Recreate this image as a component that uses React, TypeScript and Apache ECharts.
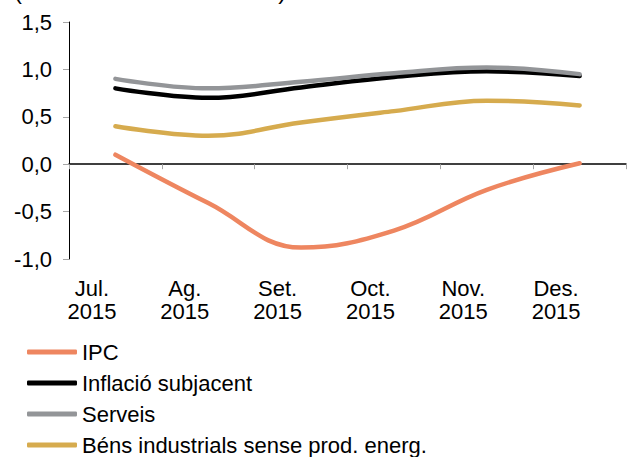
import React, { useEffect, useRef } from "react";
import * as echarts from "echarts";

const categories = ["Jul.\n2015", "Ag.\n2015", "Set.\n2015", "Oct.\n2015", "Nov.\n2015", "Des.\n2015"];
const ipc = [0.1, -0.41, -0.88, -0.7, -0.27, 0.01];
const inflacio = [0.8, 0.7, 0.81, 0.92, 0.98, 0.93];
const serveis = [0.9, 0.8, 0.87, 0.96, 1.02, 0.95];
const bens = [0.4, 0.3, 0.44, 0.56, 0.67, 0.62];
const seriesNames = ["IPC", "Inflació subjacent", "Serveis", "Béns industrials sense prod. energ."];
const colors = ["#EE8660", "#000000", "#939598", "#D6AB4E"];
const titleText = "(variació interanual en %)";

const FONT = "'Liberation Sans', Arial, sans-serif";

export default function App() {
  const ref = useRef<HTMLDivElement>(null);
  useEffect(() => {
    if (!ref.current) return;
    const chart = echarts.init(ref.current, undefined, { renderer: "svg" });
    const data = [ipc, inflacio, serveis, bens];
    chart.setOption({
      animation: false,
      textStyle: { fontFamily: FONT },
      grid: { left: 69, top: 22, width: 564, bottom: 198, containLabel: false },
      graphic: [
        {
          type: "text",
          left: 14,
          top: -22,
          style: { text: titleText, font: `24px ${FONT}`, fill: "#000" },
        },
      ],
      legend: {
        orient: "vertical",
        left: 27,
        top: 340,
        height: 130,
        padding: 0,
        itemWidth: 50,
        itemHeight: 5,
        itemGap: 7,
        icon: "roundRect",
        textStyle: { fontFamily: FONT, fontSize: 22, color: "#000", lineHeight: 24 },
        data: seriesNames,
      },
      xAxis: [
        {
          type: "category",
          data: categories,
          boundaryGap: true,
          axisLine: { onZero: true, lineStyle: { color: "#000", width: 1.5 } },
          axisTick: { show: true, length: 5, lineStyle: { color: "#A6A6A6", width: 1 } },
          axisLabel: { show: false },
          splitLine: { show: false },
        },
        {
          type: "category",
          data: categories,
          boundaryGap: true,
          position: "bottom",
          axisLine: { show: false, onZero: false },
          axisTick: { show: false },
          axisLabel: {
            show: true,
            margin: 18,
            color: "#000",
            fontSize: 22,
            fontFamily: FONT,
            lineHeight: 23,
            padding: [0, 47, 0, 0],
            interval: 0,
          },
          splitLine: { show: false },
        },
      ],
      yAxis: {
        type: "value",
        min: -1,
        max: 1.5,
        interval: 0.5,
        axisLine: { show: true, lineStyle: { color: "#000", width: 1 } },
        axisTick: { show: true, length: 6, lineStyle: { color: "#A6A6A6" } },
        splitLine: { show: false },
        axisLabel: {
          color: "#000",
          fontSize: 22,
          fontFamily: FONT,
          margin: 17,
          formatter: (v: number) => v.toFixed(1).replace(".", ","),
        },
      },
      series: data.map((d, i) => ({
        name: seriesNames[i],
        type: "line",
        xAxisIndex: 0,
        data: d,
        smooth: 0.4,
        showSymbol: false,
        symbol: "none",
        lineStyle: { color: colors[i], width: 4.5, cap: "round" },
        itemStyle: { color: colors[i] },
      })),
    });
    return () => chart.dispose();
  }, []);
  return <div ref={ref} style={{ position: "absolute", left: 0, top: 0, width: 630, height: 457 }} />;
}
